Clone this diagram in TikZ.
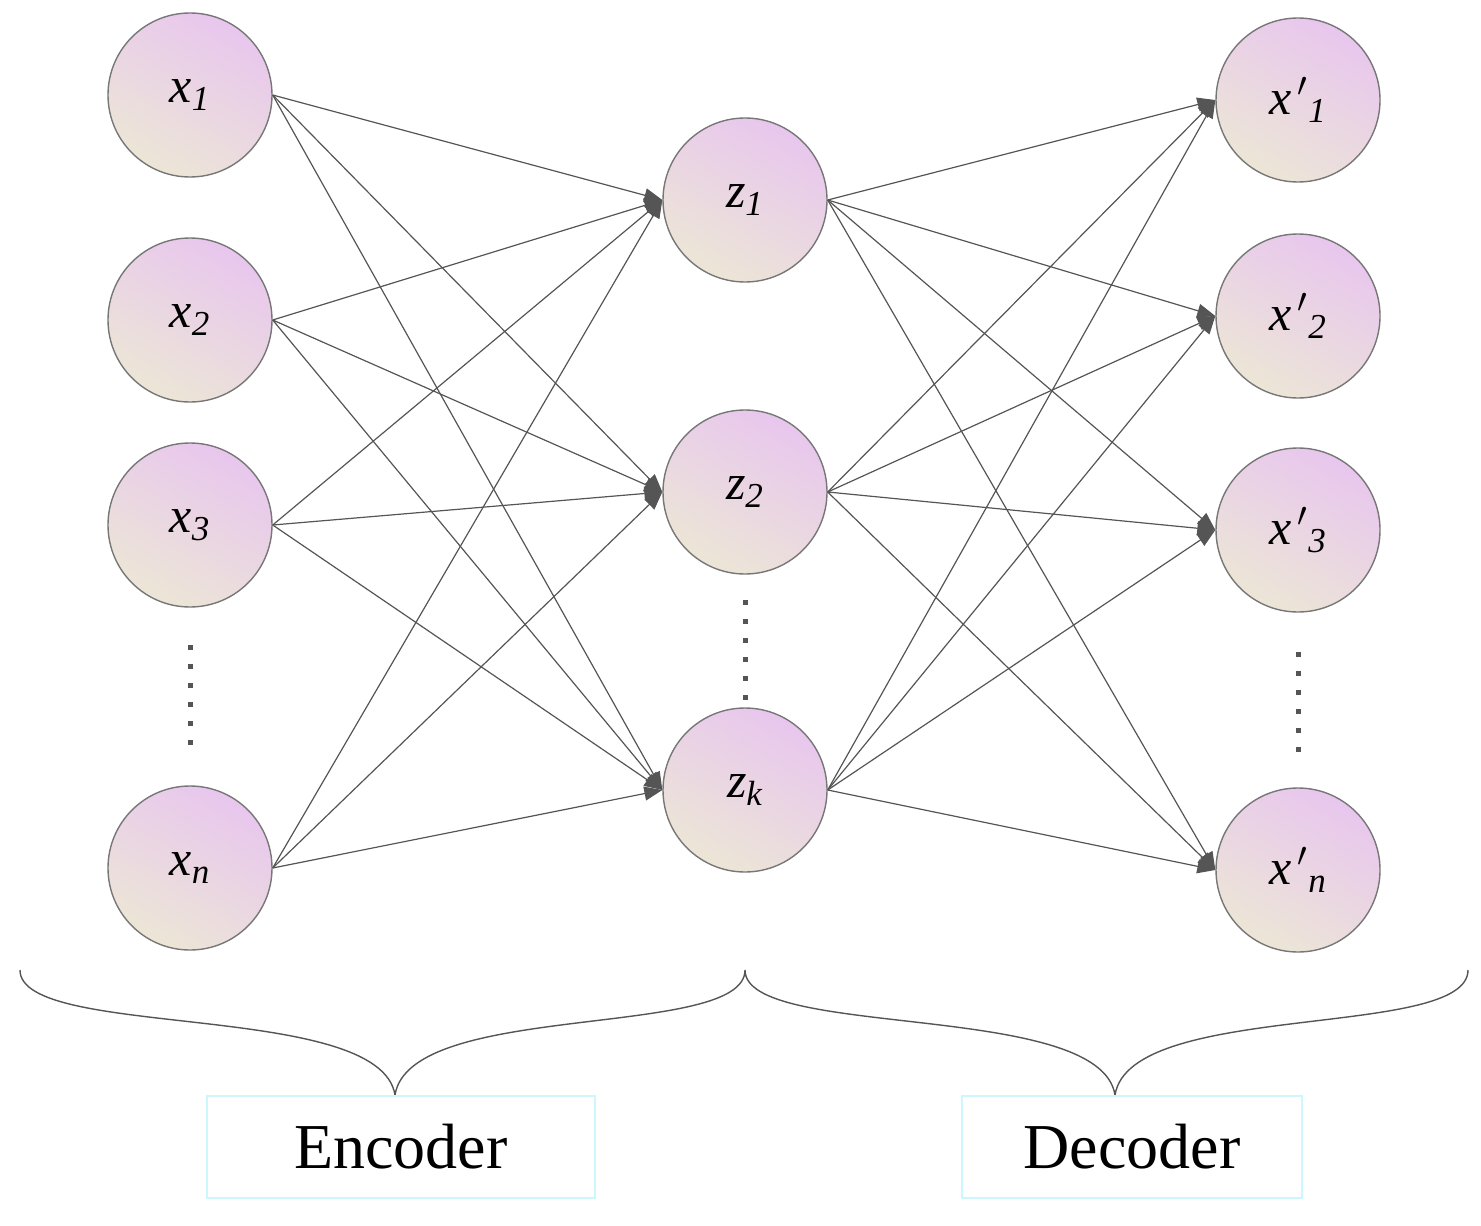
\documentclass[tikz,border=0pt]{standalone}
\usepackage{fontspec}
\setmainfont{Liberation Serif}
\usetikzlibrary{arrows.meta}
\definecolor{pk}{HTML}{E8C6EE}
\definecolor{bg}{HTML}{ECE6D6}
\definecolor{ln}{HTML}{555555}
\begin{document}
\begin{tikzpicture}[x=0.5pt,y=-0.5pt,
 neu/.style={circle,minimum size=82pt,inner sep=0pt,draw=ln!80,line width=0.7pt,
   top color=pk,bottom color=bg,shading angle=-30,font=\fontsize{25}{25}\selectfont\itshape},
 con/.style={draw=ln,line width=0.6pt,-{Triangle[length=9pt,width=7pt]}},
 dots/.style={draw=ln,line width=2.5pt,dash pattern=on 2.5pt off 7pt},
 box/.style={draw=blue!15!cyan!20,line width=0.8pt}]
\useasboundingbox (0,0) rectangle (1481,1225);
\node[neu] (x1) at (190,95) {x\textsubscript{1}};
\node[neu] (x2) at (190,320) {x\textsubscript{2}};
\node[neu] (x3) at (190,525) {x\textsubscript{3}};
\node[neu] (xn) at (190,868) {x\textsubscript{n}};
\node[neu] (z1) at (745,200) {z\textsubscript{1}};
\node[neu] (z2) at (745,492) {z\textsubscript{2}};
\node[neu] (zk) at (745,790) {z\textsubscript{k}};
\node[neu] (y1) at (1298,100) {x\,\kern-1pt$'$\textsubscript{1}};
\node[neu] (y2) at (1298,316) {x\,\kern-1pt$'$\textsubscript{2}};
\node[neu] (y3) at (1298,530) {x\,\kern-1pt$'$\textsubscript{3}};
\node[neu] (yn) at (1298,870) {x\,\kern-1pt$'$\textsubscript{n}};
\foreach \a in {x1,x2,x3,xn}{\foreach \b in {z1,z2,zk}{\draw[con] (\a.east) -- (\b.west);}}
\foreach \a in {z1,z2,zk}{\foreach \b in {y1,y2,y3,yn}{\draw[con] (\a.east) -- (\b.west);}}
\coordinate (d1) at (190,645); \coordinate (d2) at (190,745);
\draw[dots] (d1) -- (d2);
\coordinate (e1) at (745,600); \coordinate (e2) at (745,700);
\draw[dots] (e1) -- (e2);
\coordinate (f1) at (1298,652); \coordinate (f2) at (1298,752);
\draw[dots] (f1) -- (f2);
\coordinate (b1) at (20,970); \coordinate (bm) at (745,970); \coordinate (b2) at (1468,970);
\coordinate (t1) at (395,1095); \coordinate (t2) at (1115,1095);
\draw[ln,line width=0.7pt] (b1) .. controls (20,1040) and (380,1000) .. (t1)
  (t1) .. controls (410,1000) and (745,1040) .. (bm)
  (bm) .. controls (745,1040) and (1100,1000) .. (t2)
  (t2) .. controls (1130,1000) and (1468,1040) .. (b2);
\node[box,minimum width=194pt,minimum height=51pt,font=\fontsize{32}{32}\selectfont] (enc) at (401,1147) {Encoder};
\node[box,minimum width=170pt,minimum height=51pt,font=\fontsize{32}{32}\selectfont] (dec) at (1132,1147) {Decoder};
\end{tikzpicture}
\end{document}
